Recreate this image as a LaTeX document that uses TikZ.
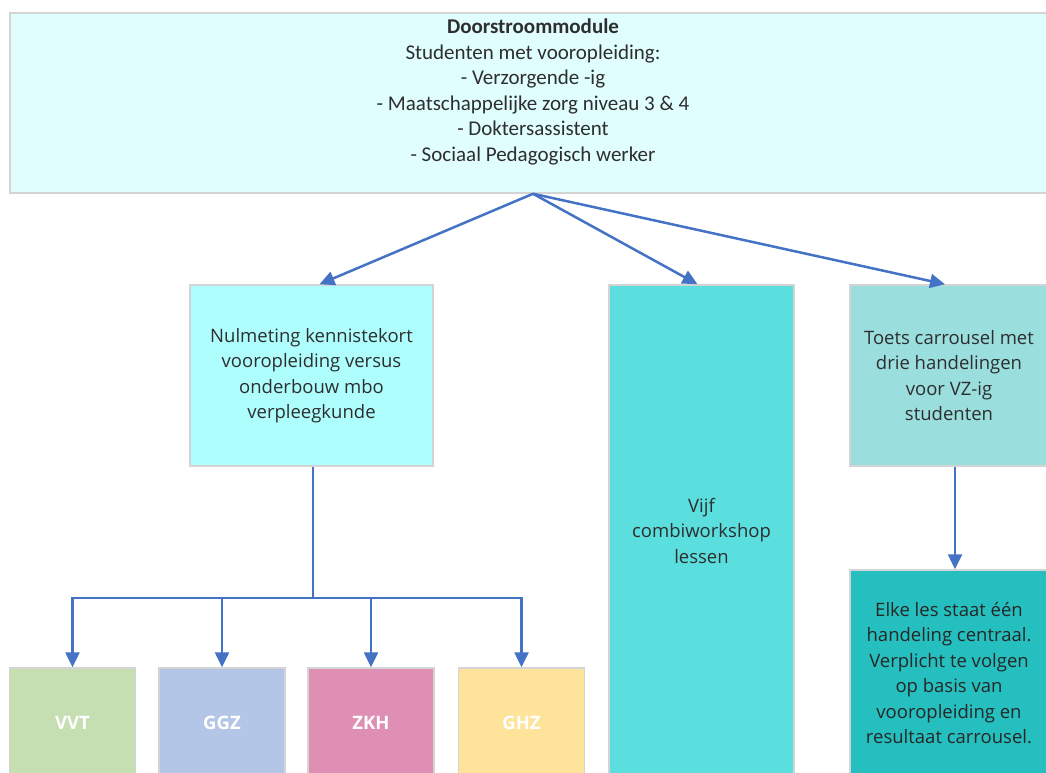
\documentclass[tikz,border=0pt]{standalone}
\usepackage{fontspec}
\setmainfont{Open Sans}
\newfontfamily\calib{Carlito}
\usetikzlibrary{arrows.meta}
\definecolor{topfill}{HTML}{E0FEFE}
\definecolor{lfill}{HTML}{AEFEFE}
\definecolor{mfill}{HTML}{5ADEDE}
\definecolor{rfill}{HTML}{9ADEDE}
\definecolor{dfill}{HTML}{26BFBF}
\definecolor{vvt}{HTML}{C5DFB3}
\definecolor{ggz}{HTML}{B4C6E7}
\definecolor{zkh}{HTML}{DF8FB4}
\definecolor{ghz}{HTML}{FEE49A}
\definecolor{edge}{HTML}{D4D4D4}
\definecolor{arrowc}{HTML}{4472C4}
\definecolor{txt}{HTML}{2E2E2E}
\tikzset{
  box/.style={draw=edge, line width=1.5pt, rectangle, inner sep=0pt, align=center, text=txt,
    font={\fontsize{18.5}{25.5}\selectfont}},
  small/.style={box, font={\bfseries\fontsize{18.5}{22}\selectfont}, text=white, minimum width=126pt, minimum height=110pt},
  arr/.style={draw=arrowc, line width=2.5pt, -{Triangle[length=15pt,width=14pt]}},
  conn/.style={draw=arrowc, line width=2.5pt}
}
\begin{document}
\begin{tikzpicture}[x=1pt,y=-1pt]
\useasboundingbox (0,0) rectangle (1046,772);
\node[box, fill=topfill, minimum width=1046pt, minimum height=180pt, font={\calib\fontsize{21}{25.5}\selectfont}] (top) at (533,103)
  {\textbf{Doorstroommodule}\\Studenten met vooropleiding:\\- Verzorgende -ig\\- Maatschappelijke zorg niveau 3 \& 4\\- Doktersassistent\\- Sociaal Pedagogisch werker\\~};
\node[box, fill=lfill, minimum width=243pt, minimum height=181pt] (lbox) at (311.5,375.5)
  {Nulmeting kennistekort\\vooropleiding versus\\onderbouw mbo\\verpleegkunde};
\node[box, fill=mfill, minimum width=185pt, minimum height=492pt] (mbox) at (701.5,531)
  {Vijf\\combiworkshop\\lessen};
\node[box, fill=rfill, minimum width=198pt, minimum height=181pt] (rbox) at (949,375.5)
  {Toets carrousel met\\drie handelingen\\voor VZ-ig\\studenten};
\node[box, fill=dfill, minimum width=198pt, minimum height=206pt, text=black!85] (dbox) at (949,673)
  {Elke les staat één\\handeling centraal.\\Verplicht te volgen\\op basis van\\vooropleiding en\\resultaat carrousel.};
\node[small, fill=vvt] (b1) at (72.5,723) {VVT};
\node[small, fill=ggz] (b2) at (222,723) {GGZ};
\node[small, fill=zkh] (b3) at (371,723) {ZKH};
\node[small, fill=ghz] (b4) at (521.5,723) {GHZ};
\draw[arr] (top.south) -- ([xshift=8pt]lbox.north);
\draw[arr] (top.south) -- ([xshift=-4pt]mbox.north);
\draw[arr] (top.south) -- ([xshift=-4pt]rbox.north);
\draw[arr] ([xshift=6pt]rbox.south) -- ([xshift=6pt]dbox.north);
\draw[conn] ([xshift=1.5pt]lbox.south) -- ++(0,131) coordinate (bus);
\draw[arr] (bus) -| (b1.north);
\draw[arr] (bus) -| (b2.north);
\draw[arr] (bus) -| (b3.north);
\draw[arr] (bus) -| (b4.north);
\end{tikzpicture}
\end{document}
